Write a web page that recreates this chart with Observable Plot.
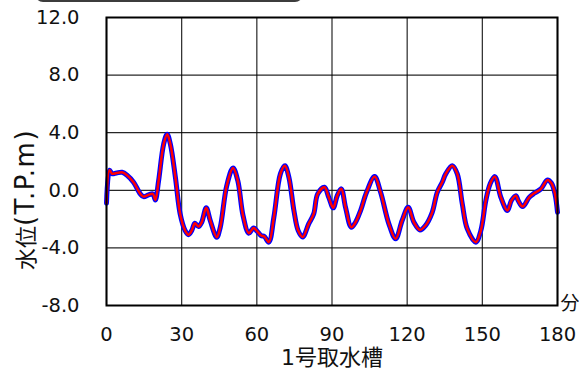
<!DOCTYPE html>
<html>
<head>
<meta charset="utf-8">
<script src="https://cdn.jsdelivr.net/npm/d3@7"></script>
<script src="https://cdn.jsdelivr.net/npm/@observablehq/plot@0.6"></script>
<style>
  html, body { margin: 0; padding: 0; background: #fff; }
  #wrap { position: relative; width: 579px; height: 369px; overflow: hidden; }
  #topbox { position: absolute; left: 35px; top: -16px; width: 268px; height: 18px;
            border: 2px solid #3c3c3c; border-radius: 8px; box-sizing: border-box; }
</style>
</head>
<body>
<div id="wrap"><div id="topbox"></div></div>
<script>
// time (minutes)
const minutes = [0, 1.2, 2.2, 4, 6.2, 8.2, 10.8, 13.5, 14.8, 16.8, 18.5, 19.5, 20.8, 22.8, 24.2, 25.5, 27.5, 29.4,
  31.4, 32.7, 34, 35.3, 36.7, 38, 39.8, 41.4, 44, 45.4, 48, 50.5, 52.4, 54.5, 56.8, 58.7, 60.1, 61.7, 63, 64.8,
  66.8, 69.4, 71.2, 72.8, 74.8, 76.5, 78.3, 80.7, 82.7, 84.3, 87, 88.7, 90.5, 92.1, 93.7, 95.4, 97.7, 99.4,
  101.4, 103.8, 107, 109.4, 112.7, 115.4, 118, 120.4, 122.7, 125.1, 127.3, 130, 132, 134, 135.4, 138, 140,
  142, 144, 147.4, 149.4, 151.4, 153.1, 155, 157.4, 160, 161.6, 163.4, 164.3, 166.1, 168.7, 170.7, 173.4,
  176, 177.6, 179, 180];
// water level (T.P.m), case 1 (blue) and case 2 (red) overlap
const levelBlue = [-0.9, 1.4, 1.15, 1.2, 1.25, 1.05, 0.56, -0.25, -0.44, -0.32, -0.25, -0.67, 0.67, 3.2, 3.9,
  3.2, 0.9, -1.64, -2.8, -3.08, -2.8, -2.29, -2.52, -2.22, -1.22, -2.1, -3.26, -2.57, 0.33, 1.55, 0.67, -1.76,
  -2.98, -2.61, -2.84, -3.14, -3.21, -3.6, -1.87, 1.14, 1.71, 0.9, -1.41, -2.8, -3.25, -2.33, -1.64, -0.25,
  0.21, -0.49, -1.22, -0.37, 0.1, -1.18, -2.57, -2.22, -1.41, -0.14, 0.95, -0.14, -2.33, -3.37, -2.1, -1.18,
  -2.22, -2.75, -2.45, -1.53, -0.14, 0.56, 1.14, 1.71, 1.14, -0.94, -2.68, -3.6, -2.8, -0.71, 0.44, 0.95,
  -0.49, -1.41, -0.71, -0.37, -0.71, -1.13, -0.49, -0.21, 0.1, 0.72, 0.49, -0.25, -1.53];
const levelRed = levelBlue.slice();

const xTicks = [0, 30, 60, 90, 120, 150, 180];
const yTicks = [-8, -4, 0, 4, 8, 12];
const xTitle = "1号取水槽";
const yTitleCJK = "水位";
const yTitleLatin = "(T.P.m)";
const unitLabel = "分";

const blueData = minutes.map((t, i) => ({t, v: levelBlue[i]}));
const redData = minutes.map((t, i) => ({t, v: levelRed[i]}));

const chart = Plot.plot({
  width: 579,
  height: 369,
  marginLeft: 106,
  marginRight: 22,
  marginTop: 17,
  marginBottom: 64,
  style: {fontFamily: "'DejaVu Sans','Noto Sans CJK JP',sans-serif", fontSize: "19.5px", color: "#000", background: "#fff"},
  x: {domain: [0, 180]},
  y: {domain: [-8, 12]},
  marks: [
    Plot.gridX(xTicks, {stroke: "#000", strokeOpacity: 0.85, strokeWidth: 1.2}),
    Plot.gridY(yTicks, {stroke: "#000", strokeOpacity: 0.85, strokeWidth: 1.2}),
    Plot.line(blueData, {x: "t", y: "v", stroke: "#0000ff", strokeWidth: 5, curve: "catmull-rom"}),
    Plot.line(redData, {x: "t", y: "v", stroke: "#ff0000", strokeWidth: 2.5, curve: "catmull-rom"}),
    Plot.frame({stroke: "#000", strokeWidth: 2}),
    Plot.axisX({ticks: xTicks, tickSize: 0, tickPadding: 22, label: null, tickFormat: d => String(d), fill: "#111"}),
    Plot.axisY({ticks: yTicks, tickSize: 0, tickPadding: 27, label: null, tickFormat: d => d.toFixed(1), fill: "#111"}),
    Plot.text([xTitle], {frameAnchor: "bottom", dy: 52, lineAnchor: "middle", textAnchor: "middle", fontSize: 22, fill: "#111"}),
    Plot.text([yTitleCJK + yTitleLatin], {frameAnchor: "left", rotate: -90, dx: -80, dy: 38, lineAnchor: "middle", textAnchor: "middle", fontSize: 22, fill: "#111"}),
    Plot.text([unitLabel], {frameAnchor: "bottom-right", dx: 3, dy: -2, lineAnchor: "middle", textAnchor: "start", fontSize: 19, fill: "#111"})
  ]
});

// style the y title: CJK and Latin parts sized separately
chart.querySelectorAll("text").forEach(el => {
  if (el.textContent === yTitleCJK + yTitleLatin) {
    el.textContent = "";
    const ns = "http://www.w3.org/2000/svg";
    const a = document.createElementNS(ns, "tspan");
    a.setAttribute("font-size", "22");
    a.textContent = yTitleCJK;
    const b = document.createElementNS(ns, "tspan");
    b.setAttribute("font-size", "26");
    b.setAttribute("letter-spacing", "1.5");
    b.textContent = yTitleLatin;
    el.appendChild(a);
    el.appendChild(b);
  }
});

document.getElementById("wrap").appendChild(chart);
</script>
</body>
</html>
